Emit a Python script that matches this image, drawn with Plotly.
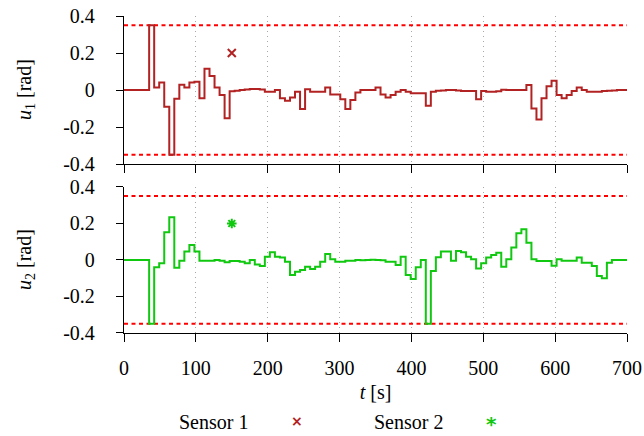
import plotly.graph_objects as go
from plotly.subplots import make_subplots

# step times [s] (sample period 7 s)
t = [0, 7, 14, 21, 28, 35, 42, 49, 56, 63, 70, 77, 84, 91, 98, 105, 112, 119, 126, 133,
     140, 147, 154, 161, 168, 175, 182, 189, 196, 203, 210, 217, 224, 231, 238, 245, 252, 259, 266, 273,
     280, 287, 294, 301, 308, 315, 322, 329, 336, 343, 350, 357, 364, 371, 378, 385, 392, 399, 406, 413,
     420, 427, 434, 441, 448, 455, 462, 469, 476, 483, 490, 497, 504, 511, 518, 525, 532, 539, 546, 553,
     560, 567, 574, 581, 588, 595, 602, 609, 616, 623, 630, 637, 644, 651, 658, 665, 672, 679, 686, 693, 700]

u1 = [0, 0, 0, 0, 0, 0.35, 0.014, 0.04, -0.09, -0.35,
      -0.047, 0.029, 0.014, 0.04, 0.045, -0.045, 0.115, 0.076, 0.014, -0.027,
      -0.153, -0.007, -0.004, 0.0, 0.003, 0.005, 0.005, 0.003, -0.009, -0.009,
      0.0, -0.045, -0.058, -0.04, -0.01, -0.103, 0.004, -0.01, -0.01, -0.01,
      0.014, -0.024, -0.024, -0.05, -0.103, -0.054, -0.014, 0.0, 0.0, 0.0,
      0.014, -0.024, -0.04, -0.027, -0.01, 0.0, -0.01, -0.018, -0.018, -0.018,
      -0.085, -0.01, -0.004, -0.002, 0.0, 0.0, -0.003, -0.005, -0.005, -0.005,
      -0.05, -0.005, -0.01, -0.01, -0.006, 0.002, 0.0, 0.0, 0.0, 0.0,
      0.027, -0.1, -0.159, -0.045, 0.021, 0.05, -0.027, -0.045, -0.027, -0.005,
      0.014, 0.0, -0.01, -0.01, -0.01, -0.005, -0.004, -0.002, 0.0, 0.0, 0.0]

u2 = [0, 0, 0, 0, 0, -0.35, -0.04, -0.018, 0.152, 0.234,
      -0.042, -0.004, 0.046, 0.082, 0.046, -0.004, -0.004, -0.004, 0.0, -0.004,
      -0.013, -0.005, -0.005, -0.009, -0.018, 0.0, -0.024, -0.033, 0.018, 0.042,
      0.018, 0.013, -0.009, -0.082, -0.064, -0.055, -0.037, -0.05, -0.037, -0.009,
      0.033, 0.004, -0.009, -0.009, -0.004, -0.004, 0.0, -0.002, 0.0, 0.002,
      0.0, -0.002, -0.009, -0.009, -0.027, 0.018, -0.082, -0.104, -0.04, 0.0,
      -0.35, -0.06, 0.015, 0.046, 0.046, -0.004, 0.049, 0.042, 0.018, 0.004,
      -0.046, -0.018, 0.013, 0.027, 0.04, -0.037, 0.004, 0.068, 0.146, 0.168,
      0.095, 0.004, -0.005, -0.005, -0.005, -0.031, 0.004, -0.004, -0.004, -0.004,
      0.013, -0.015, -0.015, -0.033, -0.088, -0.1, -0.015, 0.0, 0.0, 0.0, 0.0]

limit_t = [0, 700]
limit_hi = [0.35, 0.35]
limit_lo = [-0.35, -0.35]

sensor_t = [150]
sensor1_u = [0.2]
sensor2_u = [0.2]

x_ticks = [0, 100, 200, 300, 400, 500, 600, 700]
x_ticktext = ["0", "100", "200", "300", "400", "500", "600", "700"]
y_ticks = [0.4, 0.2, 0, -0.2, -0.4]
y_ticktext = ["0.4", "0.2", "0", "-0.2", "-0.4"]

RED_LINE = "#b22222"
GREEN_LINE = "#11c811"
LIMIT = "#ff0000"
FONT = "Liberation Serif"
FS = 20

fig = make_subplots(rows=2, cols=1, shared_xaxes=False, vertical_spacing=0.0)

for row, u, col, sens, sym in [(1, u1, RED_LINE, sensor1_u, "x-thin"),
                               (2, u2, GREEN_LINE, sensor2_u, "asterisk-open")]:
    fig.add_trace(go.Scatter(x=limit_t, y=limit_hi, mode="lines",
                             line=dict(color=LIMIT, width=2, dash="4px,3.5px"),
                             showlegend=False, hoverinfo="skip"), row=row, col=1)
    fig.add_trace(go.Scatter(x=limit_t, y=limit_lo, mode="lines",
                             line=dict(color=LIMIT, width=2, dash="4px,3.5px"),
                             showlegend=False, hoverinfo="skip"), row=row, col=1)
    fig.add_trace(go.Scatter(x=t, y=u, mode="lines", line_shape="hv",
                             line=dict(color=col, width=2), showlegend=False), row=row, col=1)
    fig.add_trace(go.Scatter(x=sensor_t, y=sens, mode="markers",
                             marker=dict(symbol=sym, size=8, color=col,
                                         line=dict(color=col, width=2)),
                             showlegend=False), row=row, col=1)

axis_common = dict(showline=True, linecolor="black", linewidth=1.3, mirror=False,
                   ticks="outside", tickcolor="black", tickwidth=1.3, zeroline=False,
                   automargin=False)

fig.update_xaxes(range=[0, 700], tickvals=x_ticks, ticktext=x_ticktext, ticklen=8,
                 showgrid=True, gridcolor="#a8a8a8", griddash="1px,4px", gridwidth=1,
                 **axis_common)
fig.update_xaxes(showticklabels=False, row=1, col=1)
fig.update_xaxes(ticklabelstandoff=9,
                 title=dict(text="<i>t</i> [s]", standoff=6,
                            font=dict(family=FONT, size=FS, color="black")),
                 row=2, col=1)
fig.update_yaxes(range=[-0.4, 0.4], tickvals=y_ticks, ticktext=y_ticktext, ticklen=7,
                 showgrid=False, ticklabelstandoff=17, **axis_common)

fig.update_layout(
    width=644, height=436,
    margin=dict(l=124, r=17, t=16, b=103, autoexpand=False),
    plot_bgcolor="white", paper_bgcolor="white",
    font=dict(family=FONT, size=FS, color="black"),
    xaxis=dict(domain=[0, 1]), yaxis=dict(domain=[0.533, 1.0]),
    xaxis2=dict(domain=[0, 1]), yaxis2=dict(domain=[0.0, 0.4606]),
    showlegend=False,
)

W, H = 503.0, 317.0
def px_x(p):
    return (p - 124) / W
def px_y(p):
    return (333 - p) / H

# y-axis titles (rotated)
for yp, txt in [(90, "<i>u</i><sub>1</sub> [rad]"), (260, "<i>u</i><sub>2</sub> [rad]")]:
    fig.add_annotation(x=px_x(25), y=px_y(yp), xref="paper", yref="paper", text=txt,
                       textangle=-90, xanchor="center", yanchor="middle", showarrow=False,
                       font=dict(family=FONT, size=FS, color="black"))

# legend (text followed by marker glyph), placed below the axes
legend_items = [
    (213, 422, "Sensor 1", FONT, FS, "black"),
    (297, 421, "<b>×</b>", "DejaVu Sans", 14, RED_LINE),
    (408, 422, "Sensor 2", FONT, FS, "black"),
    (491, 424, "<b>*</b>", "DejaVu Sans", 20, GREEN_LINE),
]
for xp, yp, txt, fam, size, colr in legend_items:
    fig.add_annotation(x=px_x(xp), y=px_y(yp), xref="paper", yref="paper", text=txt,
                       xanchor="center", yanchor="middle", showarrow=False,
                       font=dict(family=fam, size=size, color=colr))

fig.write_html("out.html")
